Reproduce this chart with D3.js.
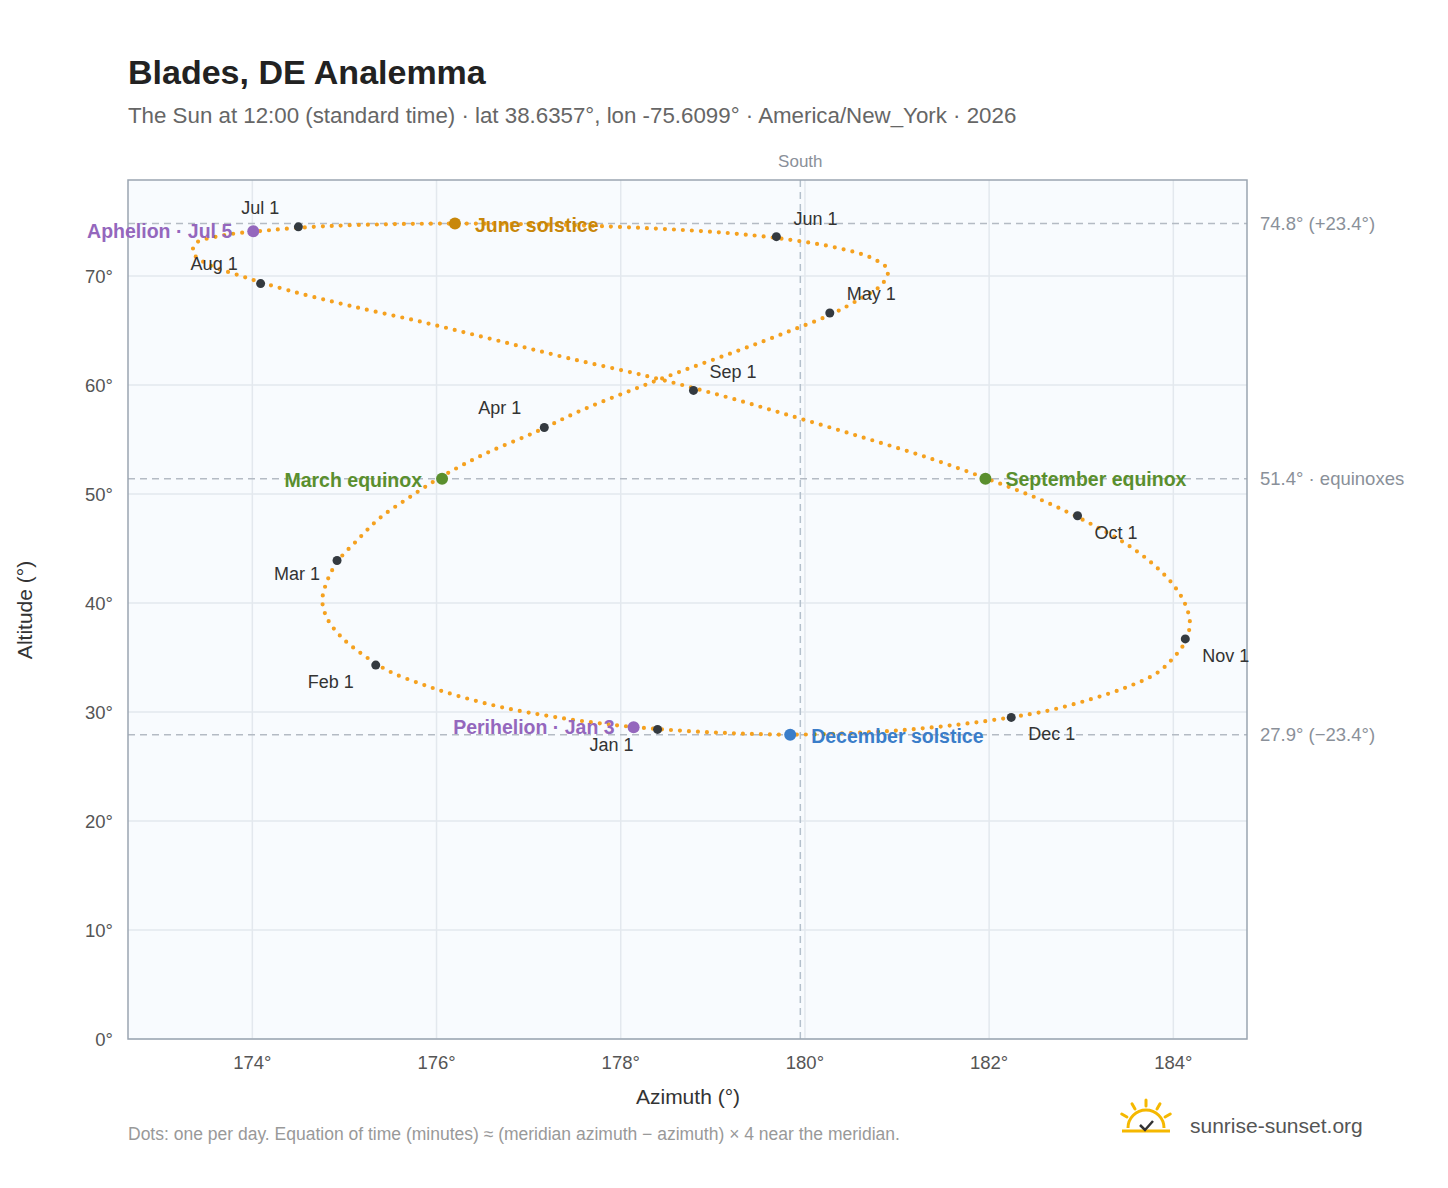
<!DOCTYPE html>
<html>
<head>
<meta charset="utf-8">
<script src="https://cdn.jsdelivr.net/npm/d3@7"></script>
<style>
  body { margin: 0; background: #fff; font-family: "Liberation Sans", Arial, sans-serif; }
</style>
</head>
<body>
<svg id="chart" width="1448" height="1188"></svg>
<script>
// sun position at 12:00 standard time, sampled every 5 days (Jan 1 .. Dec 27)
var azimuth = [178.52,177.87,177.27,176.75,176.28,175.87,175.48,175.20,174.98,174.82,174.76,174.81,174.93,175.14,175.38,175.70,176.07,176.52,177.07,177.57,178.13,178.69,179.28,179.81,180.28,180.61,180.84,180.90,180.72,180.36,179.80,179.13,178.34,177.45,176.47,175.60,174.79,174.14,173.64,173.38,173.36,173.52,173.89,174.40,175.06,175.85,176.62,177.43,178.31,179.12,179.89,180.64,181.36,182.02,182.59,183.08,183.48,183.78,184.00,184.13,184.18,184.13,184.00,183.82,183.49,183.10,182.66,182.20,181.68,181.09,180.48,179.83,179.18];
var altitude = [28.36,28.86,29.56,30.36,31.36,32.46,33.76,35.26,36.76,38.46,40.16,41.96,43.86,45.76,47.76,49.66,51.66,53.66,55.66,57.66,59.56,61.36,63.16,64.86,66.46,67.96,69.26,70.56,71.66,72.56,73.36,73.96,74.36,74.66,74.80,74.76,74.56,74.16,73.66,72.96,72.06,71.06,69.96,68.66,67.26,65.76,64.16,62.46,60.76,58.96,57.06,55.16,53.26,51.26,49.36,47.36,45.46,43.56,41.66,39.86,38.16,36.46,34.96,33.56,32.26,31.16,30.16,29.46,28.86,28.36,28.06,27.92,28.06];

var monthNames = ["Jan 1","Feb 1","Mar 1","Apr 1","May 1","Jun 1","Jul 1","Aug 1","Sep 1","Oct 1","Nov 1","Dec 1"];
var monthAz = [178.40,175.34,174.92,177.17,180.27,179.69,174.50,174.09,178.79,182.96,184.13,182.24];
var monthAlt = [28.4,34.3,43.9,56.1,66.6,73.6,74.5,69.3,59.5,48.0,36.7,29.5];

var eventNames = ["Aphelion · Jul 5","June solstice","March equinox","September equinox","Perihelion · Jan 3","December solstice"];
var eventAz = [174.01,176.20,176.06,181.96,178.14,179.84];
var eventAlt = [74.1,74.8,51.4,51.4,28.6,27.9];
var eventColors = ["#9467bd","#c8870a","#5a8f2e","#5a8f2e","#9467bd","#3a7dc9"];

var refAlt = [74.8, 51.4, 27.9];
var refLabels = ["74.8° (+23.4°)", "51.4° · equinoxes", "27.9° (−23.4°)"];

var xTicks = [174,176,178,180,182,184];
var yTicks = [0,10,20,30,40,50,60,70];

// label placement [dx, dy, anchor]
var monthLabelPos = [[-68,22,"start"],[-68,23,"start"],[-17,20,"end"],[-66,-13,"start"],[17,-13,"start"],[17,-12,"start"],[-38,-13,"middle"],[-70,-14,"start"],[16,-12,"start"],[17,23,"start"],[17,23,"start"],[17,23,"start"]];
var eventLabelPos = [[-21,7,"end"],[20,8,"start"],[-20,8,"end"],[20,7,"start"],[-19,7,"end"],[21,8,"start"]];

var svg = d3.select("#chart");
var L = 128, R = 1247, T = 180, B = 1039;
var x = d3.scaleLinear().domain([172.65, 184.8]).range([L, R]);
var y = d3.scaleLinear().domain([0, 78.8]).range([B, T]);

svg.append("rect").attr("x", L).attr("y", T).attr("width", R - L).attr("height", B - T).attr("fill", "#f8fbfe");

svg.selectAll(".gx").data(xTicks).enter().append("line")
  .attr("x1", d => x(d)).attr("x2", d => x(d)).attr("y1", T).attr("y2", B)
  .attr("stroke", "#e3e8ee").attr("stroke-width", 1.5);
svg.selectAll(".gy").data(yTicks).enter().append("line")
  .attr("x1", L).attr("x2", R).attr("y1", d => y(d)).attr("y2", d => y(d))
  .attr("stroke", "#e3e8ee").attr("stroke-width", 1.5);

// reference altitudes
svg.selectAll(".ref").data(refAlt).enter().append("line")
  .attr("x1", L).attr("x2", R).attr("y1", d => y(d)).attr("y2", d => y(d))
  .attr("stroke", "#b4bbc4").attr("stroke-width", 1.5).attr("stroke-dasharray", "7 5");
svg.selectAll(".refl").data(refAlt).enter().append("text")
  .attr("x", 1260).attr("y", d => y(d) + 6).text((d, i) => refLabels[i])
  .attr("font-size", 18.5).attr("fill", "#8a9099");

// south line
svg.append("line").attr("x1", x(179.95)).attr("x2", x(179.95)).attr("y1", T).attr("y2", B)
  .attr("stroke", "#b4c0cc").attr("stroke-width", 1.5).attr("stroke-dasharray", "7 5");
svg.append("text").attr("x", x(179.95)).attr("y", 167).attr("text-anchor", "middle")
  .attr("font-size", 17).attr("fill", "#8a9099").text("South");

svg.append("rect").attr("x", L).attr("y", T).attr("width", R - L).attr("height", B - T)
  .attr("fill", "none").attr("stroke", "#9aa5b1").attr("stroke-width", 1.5);

// analemma dotted path
var pts = azimuth.map((a, i) => [x(a), y(altitude[i])]);
svg.append("path")
  .attr("d", d3.line().curve(d3.curveCatmullRomClosed)(pts))
  .attr("fill", "none").attr("stroke", "#f5a11f").attr("stroke-width", 4.2)
  .attr("stroke-linecap", "round").attr("stroke-dasharray", "0 9");

// ticks
svg.selectAll(".xt").data(xTicks).enter().append("text")
  .attr("x", d => x(d)).attr("y", 1069).attr("text-anchor", "middle")
  .attr("font-size", 18.5).attr("fill", "#555").text(d => d + "°");
svg.selectAll(".yt").data(yTicks).enter().append("text")
  .attr("x", 113).attr("y", d => y(d) + 7).attr("text-anchor", "end")
  .attr("font-size", 18.5).attr("fill", "#555").text(d => d + "°");

// month markers
svg.selectAll(".m").data(monthNames).enter().append("circle")
  .attr("cx", (d, i) => x(monthAz[i])).attr("cy", (d, i) => y(monthAlt[i])).attr("r", 4.5)
  .attr("fill", "#343a40");
svg.selectAll(".ml").data(monthNames).enter().append("text")
  .attr("x", (d, i) => x(monthAz[i]) + monthLabelPos[i][0])
  .attr("y", (d, i) => y(monthAlt[i]) + monthLabelPos[i][1])
  .attr("text-anchor", (d, i) => monthLabelPos[i][2])
  .attr("font-size", 18).attr("fill", "#333").text(d => d);

// events
svg.selectAll(".e").data(eventNames).enter().append("circle")
  .attr("cx", (d, i) => x(eventAz[i])).attr("cy", (d, i) => y(eventAlt[i])).attr("r", 6)
  .attr("fill", (d, i) => eventColors[i]);
svg.selectAll(".el").data(eventNames).enter().append("text")
  .attr("x", (d, i) => x(eventAz[i]) + eventLabelPos[i][0])
  .attr("y", (d, i) => y(eventAlt[i]) + eventLabelPos[i][1])
  .attr("text-anchor", (d, i) => eventLabelPos[i][2])
  .attr("font-size", 19.5).attr("font-weight", "bold")
  .attr("fill", (d, i) => eventColors[i]).text(d => d);

// titles
svg.append("text").attr("x", 128).attr("y", 84).attr("font-size", 34).attr("font-weight", "bold")
  .attr("fill", "#222").text("Blades, DE Analemma");
svg.append("text").attr("x", 128).attr("y", 123).attr("font-size", 22.3).attr("fill", "#666")
  .text("The Sun at 12:00 (standard time) · lat 38.6357°, lon -75.6099° · America/New_York · 2026");
svg.append("text").attr("x", 688).attr("y", 1104).attr("text-anchor", "middle")
  .attr("font-size", 21).attr("fill", "#333").text("Azimuth (°)");
svg.append("text").attr("transform", "translate(32,610) rotate(-90)").attr("text-anchor", "middle")
  .attr("font-size", 21).attr("fill", "#333").text("Altitude (°)");
svg.append("text").attr("x", 128).attr("y", 1140).attr("font-size", 17.5).attr("fill", "#999")
  .text("Dots: one per day. Equation of time (minutes) ≈ (meridian azimuth − azimuth) × 4 near the meridian.");

// logo
var g = svg.append("g").attr("transform", "translate(1146,1128)");
g.append("path").attr("d", "M-18,0 A18,18 0 0 1 18,0").attr("fill", "none").attr("stroke", "#f5b800").attr("stroke-width", 3);
[-150,-120,-90,-60,-30].forEach(function(a) {
  var r = a * Math.PI / 180;
  g.append("line").attr("x1", 22 * Math.cos(r)).attr("y1", 22 * Math.sin(r))
    .attr("x2", 28 * Math.cos(r)).attr("y2", 28 * Math.sin(r))
    .attr("stroke", "#f5b800").attr("stroke-width", 3).attr("stroke-linecap", "round");
});
g.append("line").attr("x1", -24).attr("x2", 24).attr("y1", 3).attr("y2", 3).attr("stroke", "#f5b800").attr("stroke-width", 3);
g.append("path").attr("d", "M-6,-3 L-1,2 L7,-7").attr("fill", "none").attr("stroke", "#333").attr("stroke-width", 2.5);
svg.append("text").attr("x", 1190).attr("y", 1133).attr("font-size", 21).attr("fill", "#555").text("sunrise-sunset.org");
</script>
</body>
</html>
